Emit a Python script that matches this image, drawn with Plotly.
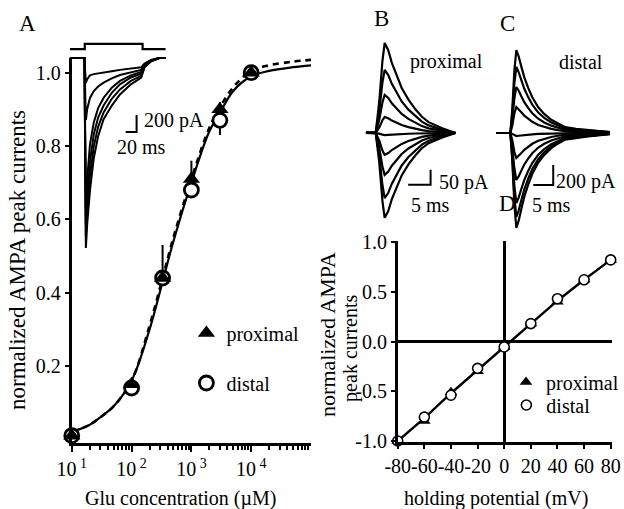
import plotly.graph_objects as go

W, H = 624, 509
FONT = "Liberation Serif, Times New Roman, serif"


def px_x(p):
    return p / W


def px_y(p):
    return 1 - p / H


# ---------------- Panel A: dose-response ----------------
GLU_CONC = [10, 100, 330, 1000, 3000, 10000]
PROX_A = [0.01, 0.15, 0.44, 0.71, 0.90, 1.00]
PROX_A_ERR_UP = [0.0, 0.01, 0.09, 0.05, 0.02, 0.01]
PROX_A_ERR_DN = [0.0, 0.0, 0.0, 0.0, 0.0, 0.0]
DIST_A = [0.01, 0.14, 0.44, 0.68, 0.87, 1.00]
DIST_A_ERR_UP = [0.0, 0.0, 0.0, 0.0, 0.0, 0.0]
DIST_A_ERR_DN = [0.0, 0.01, 0.02, 0.02, 0.04, 0.01]

FIT_CONC = [10, 20, 30, 50, 100, 200, 330, 500, 1000, 2000, 3000, 5000,
            10000, 20000, 50000, 100000]
FIT_SOLID = [0.02, 0.04, 0.06, 0.09, 0.16, 0.30, 0.43, 0.54, 0.70, 0.84,
             0.89, 0.95, 0.99, 1.005, 1.015, 1.02]
FIT_DASHED = [0.02, 0.04, 0.06, 0.09, 0.16, 0.31, 0.44, 0.55, 0.71, 0.85,
              0.905, 0.96, 1.005, 1.02, 1.03, 1.035]

A_XTICKS = [10, 100, 1000, 10000]
A_XTICKTEXT = ["10<sup> 1</sup>", "10<sup> 2</sup>", "10<sup> 3</sup>", "10<sup> 4</sup>"]
A_XMINOR = [m * 10 ** k for k in range(1, 5) for m in range(2, 10)]
A_YTICKS = [0.2, 0.4, 0.6, 0.8, 1.0]
A_YTICKTEXT = ["0.2", "0.4", "0.6", "0.8", "1.0"]

# inset of A: currents (pA) vs time (ms)
INSET_T = [-4, 23, 24.2, 25.5, 28, 33, 40, 48, 58, 73, 88, 108, 127, 133, 145, 160, 172]
INSET_TRACES = [
    [0, 0, -150, -294, -250, -205, -190, -180, -170, -155, -140, -125, -110, -65, -22, 0, 0],
    [0, 0, -380, -730, -600, -470, -390, -335, -290, -240, -200, -165, -140, -80, -28, 0, 0],
    [0, 0, -880, -1750, -1420, -1020, -760, -590, -470, -350, -270, -205, -165, -90, -32, 0, 0],
    [0, 0, -980, -1950, -1640, -1220, -900, -700, -560, -410, -310, -230, -185, -98, -35, 0, 0],
    [0, 0, -1060, -2100, -1800, -1390, -1040, -810, -640, -480, -370, -270, -210, -105, -38, 0, 0],
    [0, 0, -1130, -2235, -1950, -1560, -1180, -920, -720, -560, -430, -310, -230, -110, -40, 0, 0],
]
PULSE_T = [-4, 23.5, 129.5, 172]
PULSE_LEVEL = [105, 165, 105, 105]
SCALE_A_MS, SCALE_A_PA = 20, 200
SCALE_A_CORNER = (118.5, -870)

# ---------------- Panels B, C: I-V current families ----------------
B_T = [0, 2.2, 3.0, 3.7, 4.2, 5.0, 5.8, 7.0, 8.0, 9.5, 11.1, 12.5, 14.0, 16.9, 20.0]
B_WAVE = [0, 0, 0.35, 0.8, 1.0, 0.92, 0.78, 0.62, 0.5, 0.37, 0.26, 0.18, 0.12, 0.055, 0.0]
B_AMP_PA = [300, 210, 127, 53, -7, -73, -140, -217, -283]
SCALE_B_MS, SCALE_B_PA = 5, 50
SCALE_B_CORNER = (14.44, -173)

C_T = [0, 3.5, 4.0, 4.5, 5.0, 5.6, 6.25, 7.0, 8.0, 9.0, 10.5, 12, 13.75, 15.5, 17.25, 20, 23, 28.5]
C_WAVE = [0, 0, 0.3, 0.75, 1.0, 0.92, 0.8, 0.67, 0.54, 0.43, 0.31, 0.23, 0.16, 0.11, 0.07,
          0.05, 0.036, 0.012]
C_AMP_PA = [830, 660, 460, 260, -30, -250, -470, -700, -840, -950]
SCALE_C_MS, SCALE_C_PA = 5, 200
SCALE_C_CORNER = (14.25, -520)

# ---------------- Panel D: I-V relation ----------------
HOLD_MV = [-80, -60, -40, -20, 0, 20, 40, 60, 80]
PROX_D = [-1.0, -0.80, -0.51, -0.30, -0.055, 0.18, 0.40, 0.62, 0.82]
DIST_D = [-1.0, -0.76, -0.54, -0.27, -0.055, 0.18, 0.43, 0.62, 0.82]
LINE_D = [-1.0, -0.77, -0.52, -0.285, -0.05, 0.18, 0.41, 0.62, 0.82]
D_XTICKTEXT = ["-80", "-60", "-40", "-20", "0", "20", "40", "60", "80"]
D_YTICKS = [-1.0, -0.5, 0.0, 0.5, 1.0]
D_YTICKTEXT = ["-1.0", "-0.5", "0.0", "0.5", "1.0"]

fig = go.Figure()

# --- Panel A curves and points
fig.add_trace(go.Scatter(x=FIT_CONC, y=FIT_SOLID, mode="lines", line=dict(color="black", width=2.2, shape="spline"),
                         xaxis="x", yaxis="y", showlegend=False))
fig.add_trace(go.Scatter(x=FIT_CONC, y=FIT_DASHED, mode="lines",
                         line=dict(color="black", width=2.6, dash="6px,5px", shape="spline"),
                         xaxis="x", yaxis="y", showlegend=False))
fig.add_trace(go.Scatter(x=GLU_CONC, y=DIST_A, mode="markers", name="distal",
                         marker=dict(symbol="circle", size=14, color="white", line=dict(color="black", width=2.8)),
                         error_y=dict(type="data", symmetric=False, array=DIST_A_ERR_UP, arrayminus=DIST_A_ERR_DN,
                                      color="black", thickness=2, width=0),
                         cliponaxis=False, xaxis="x", yaxis="y", legend="legend3"))
fig.add_trace(go.Scatter(x=GLU_CONC, y=PROX_A, mode="markers", name="proximal",
                         marker=dict(symbol="triangle-up", size=15, color="black", line=dict(width=0)),
                         error_y=dict(type="data", symmetric=False, array=PROX_A_ERR_UP, arrayminus=PROX_A_ERR_DN,
                                      color="black", thickness=2, width=0),
                         cliponaxis=False, xaxis="x", yaxis="y", legend="legend"))

# --- inset of A
fig.add_trace(go.Scatter(x=PULSE_T, y=PULSE_LEVEL, mode="lines", line=dict(color="black", width=2.2, shape="hv"),
                         xaxis="x2", yaxis="y2", showlegend=False))
for tr in INSET_TRACES:
    fig.add_trace(go.Scatter(x=INSET_T, y=tr, mode="lines", line=dict(color="black", width=2),
                             xaxis="x2", yaxis="y2", showlegend=False))
cx, cy = SCALE_A_CORNER
fig.add_trace(go.Scatter(x=[cx - SCALE_A_MS, cx, cx], y=[cy, cy, cy + SCALE_A_PA], mode="lines",
                         line=dict(color="black", width=2), xaxis="x2", yaxis="y2", showlegend=False))

# --- B
for a in B_AMP_PA:
    fig.add_trace(go.Scatter(x=B_T, y=[w * a for w in B_WAVE], mode="lines", line=dict(color="black", width=2.2),
                             xaxis="x3", yaxis="y3", showlegend=False))
cx, cy = SCALE_B_CORNER
fig.add_trace(go.Scatter(x=[cx - SCALE_B_MS, cx, cx], y=[cy, cy, cy + SCALE_B_PA], mode="lines",
                         line=dict(color="black", width=2), xaxis="x3", yaxis="y3", showlegend=False))

# --- C
for a in C_AMP_PA:
    fig.add_trace(go.Scatter(x=C_T, y=[w * a for w in C_WAVE], mode="lines", line=dict(color="black", width=2.2),
                             xaxis="x4", yaxis="y4", showlegend=False))
cx, cy = SCALE_C_CORNER
fig.add_trace(go.Scatter(x=[cx - SCALE_C_MS, cx, cx], y=[cy, cy, cy + SCALE_C_PA], mode="lines",
                         line=dict(color="black", width=2), xaxis="x4", yaxis="y4", showlegend=False))

# --- D
fig.add_trace(go.Scatter(x=HOLD_MV, y=LINE_D, mode="lines", line=dict(color="black", width=2.4),
                         xaxis="x5", yaxis="y5", showlegend=False))
fig.add_trace(go.Scatter(x=HOLD_MV, y=PROX_D, mode="markers", name="proximal",
                         marker=dict(symbol="triangle-up", size=11, color="black"),
                         cliponaxis=False, xaxis="x5", yaxis="y5", legend="legend2"))
fig.add_trace(go.Scatter(x=HOLD_MV, y=DIST_D, mode="markers", name="distal",
                         marker=dict(symbol="circle", size=10, color="white", line=dict(color="black", width=1.6)),
                         cliponaxis=False, xaxis="x5", yaxis="y5", legend="legend4"))

tickfont = dict(family=FONT, size=20, color="black")
hidden = dict(visible=False, showgrid=False, zeroline=False, fixedrange=True, automargin=False)


def leg(x, y, size):
    return dict(x=px_x(x), y=px_y(y), xanchor="left", yanchor="middle", bgcolor="rgba(0,0,0,0)",
                borderwidth=0, font=dict(family=FONT, size=size, color="black"))


fig.update_layout(
    template="none",
    width=W, height=H, autosize=False,
    margin=dict(l=0, r=0, t=0, b=0, pad=0),
    paper_bgcolor="white", plot_bgcolor="rgba(0,0,0,0)",
    font=dict(family=FONT, size=20, color="black"),
    xaxis=dict(type="log", range=[1, 5], domain=[px_x(72), px_x(312)], anchor="y", automargin=False,
               showline=True, linewidth=3, linecolor="black", showgrid=False, zeroline=False,
               tickvals=A_XTICKS, ticktext=A_XTICKTEXT, ticks="outside", ticklen=6, tickwidth=2,
               tickcolor="black", tickfont=tickfont,
               minor=dict(tickvals=A_XMINOR, ticks="outside", ticklen=4, tickwidth=1.5, tickcolor="black",
                          showgrid=False)),
    yaxis=dict(range=[-0.01, 1.04], domain=[px_y(443), px_y(58)], anchor="x", automargin=False,
               showline=True, linewidth=3, linecolor="black", showgrid=False, zeroline=False,
               tickvals=A_YTICKS, ticktext=A_YTICKTEXT, ticks="outside", ticklen=4, tickwidth=2,
               tickcolor="black", tickfont=tickfont),
    xaxis2=dict(hidden, range=[-4, 172], domain=[px_x(70), px_x(166.3)], anchor="y2"),
    yaxis2=dict(hidden, range=[-2318, 235], domain=[px_y(255), px_y(38)], anchor="x2"),
    xaxis3=dict(hidden, range=[0, 20], domain=[px_x(367), px_x(457)], anchor="y3"),
    yaxis3=dict(hidden, range=[-317, 310], domain=[px_y(228), px_y(40)], anchor="x3"),
    xaxis4=dict(hidden, range=[0, 28.5], domain=[px_x(498), px_x(612)], anchor="y4"),
    yaxis4=dict(hidden, range=[-1020, 930], domain=[px_y(235), px_y(40)], anchor="x4"),
    xaxis5=dict(range=[-80, 81], domain=[px_x(399), px_x(614)], anchor="y5", automargin=False,
                showline=True, linewidth=2.5, linecolor="black", showgrid=False,
                zeroline=True, zerolinewidth=2.5, zerolinecolor="black",
                tickvals=HOLD_MV, ticktext=D_XTICKTEXT, tickangle=0, ticks="outside", ticklen=4, tickwidth=2,
                tickcolor="black", tickfont=tickfont),
    yaxis5=dict(range=[-1.01, 1.01], domain=[px_y(442), px_y(241)], anchor="x5", automargin=False,
                showline=True, linewidth=2.5, linecolor="black", showgrid=False,
                zeroline=True, zerolinewidth=2.5, zerolinecolor="black",
                tickvals=D_YTICKS, ticktext=D_YTICKTEXT, ticks="outside", ticklen=4, tickwidth=2,
                tickcolor="black", tickfont=tickfont),
    legend=leg(187, 333, 20),
    legend3=leg(187, 383, 20),
    legend2=leg(508, 382, 20),
    legend4=leg(508, 405, 20),
)


def note(text, x, y, size=20, xanchor="center", textangle=0):
    fig.add_annotation(text=text, x=px_x(x), y=px_y(y), xref="paper", yref="paper", showarrow=False,
                       xanchor=xanchor, yanchor="middle", textangle=textangle,
                       font=dict(family=FONT, size=size, color="black"))


note("A", 28, 23, size=23)
note("B", 383, 18, size=23)
note("C", 509, 23, size=23)
note("D", 509, 203, size=23)
note("200 pA", 142, 121, xanchor="left")
note("20 ms", 115, 147, xanchor="left")
note("proximal", 448, 62)
note("distal", 583, 62)
note("50 pA", 438, 182, xanchor="left")
note("5 ms", 410, 205, xanchor="left")
note("200 pA", 556, 181, xanchor="left")
note("5 ms", 532, 205, xanchor="left")
note("normalized AMPA peak currents", 17, 260, size=23, textangle=-90)
note("Glu concentration (\u00b5M)", 181, 498)
note("normalized AMPA", 328, 334, size=22, textangle=-90)
note("peak currents", 351, 348, size=20, textangle=-90)
note("holding potential (mV)", 498, 498)

fig.write_html("out.html", config={"displayModeBar": False})
